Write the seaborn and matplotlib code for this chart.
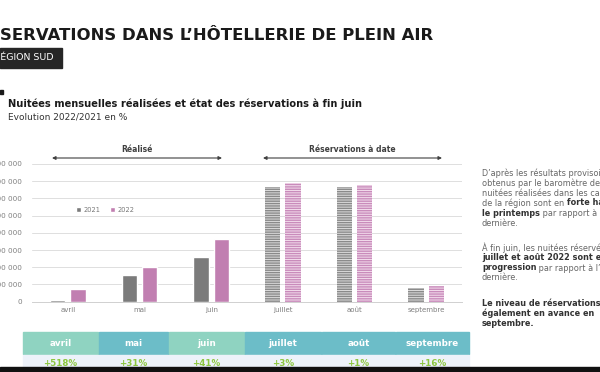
import matplotlib
matplotlib.use("Agg")
import matplotlib.pyplot as plt
import matplotlib.patches as mpatches
from matplotlib.ticker import FuncFormatter
import seaborn as sns
import pandas as pd

months = ['avril', 'mai', 'juin', 'juillet', 'août', 'septembre']
nuitees_2021 = [60000, 775000, 1300000, 3330000, 3330000, 390000]
nuitees_2022 = [370000, 1015000, 1830000, 3440000, 3385000, 455000]
evolution = ['+518%', '+31%', '+41%', '+3%', '+1%', '+16%']
forecast = ['juillet', 'août', 'septembre']

df = pd.DataFrame({'mois': months * 2,
                   'annee': ['2021'] * 6 + ['2022'] * 6,
                   'nuitees': nuitees_2021 + nuitees_2022})

W, H = 600, 372
def fx(x): return x / W
def fy(y): return 1 - y / H

sns.set_style("white")
plt.rcParams['font.family'] = ['DejaVu Sans']
plt.rcParams['hatch.linewidth'] = 1.0

fig = plt.figure(figsize=(6, 3.72), dpi=100)
renderer = fig.canvas.get_renderer()

def fit_size(text, width_px, weight='normal'):
    t = fig.text(0, 0, text, fontsize=10, weight=weight)
    w = t.get_window_extent(renderer=renderer).width
    t.remove()
    return 10 * width_px / w

ax = fig.add_axes([fx(32), fy(301.7), fx(462) - fx(32), (301.7 - 164) / H])

palette = {'2021': '#7b7b7b', '2022': '#c17fb1'}
sns.barplot(data=df, x='mois', y='nuitees', hue='annee', palette=palette,
            width=0.57, gap=0.25, saturation=1, ax=ax)

# reservations (not yet realised) drawn striped
light = ['#dcdcdc', '#f3dcec']
stripe = ['#8a8a8a', '#c98bbb']
for i, cont in enumerate(ax.containers):
    for j, bar in enumerate(cont):
        if months[j] in forecast:
            bar.set_facecolor(light[i])
            bar.set_edgecolor(stripe[i])
            bar.set_hatch('-------')
            bar.set_linewidth(0)

ax.set_ylim(0, 4000000)
ax.set_yticks(range(0, 4000001, 500000))
ax.yaxis.set_major_formatter(FuncFormatter(lambda v, p: f"{v:,.0f}".replace(',', ' ')))
ax.yaxis.grid(True, color='#dedede', lw=0.7)
ax.set_axisbelow(True)
for s in ['top', 'right', 'left']:
    ax.spines[s].set_visible(False)
ax.spines['bottom'].set_color('#d0d0d0')
ax.spines['bottom'].set_linewidth(0.7)
ax.tick_params(axis='both', length=0, labelcolor='#7f7f7f')
ax.tick_params(axis='y', pad=7, labelsize=5.2)
ax.tick_params(axis='x', pad=4, labelsize=5)
ax.set_xlabel('')
ax.set_ylabel('')
ax.set_xlim(-0.5, 5.5)

leg = ax.legend(loc='center', bbox_to_anchor=(0.17, 0.666), ncol=2, frameon=False,
                fontsize=4.8, handlelength=0.8, handleheight=0.8, handletextpad=0.3,
                columnspacing=1.4, labelcolor='#777777')

# arrows above the bars
for x0, x1, label in [(52, 222, 'Réalisé'), (263, 442, 'Réservations à date')]:
    ax.annotate('', xy=(fx(x1), fy(158)), xytext=(fx(x0), fy(158)), xycoords='figure fraction',
                arrowprops=dict(arrowstyle='<|-|>', color='#404040', lw=0.8, mutation_scale=5,
                                shrinkA=0, shrinkB=0))
    fig.text(fx((x0 + x1) / 2), fy(150), label, ha='center', va='center',
             fontsize=5.5, weight='bold', color='#404040')

# header
title = 'RÉSERVATIONS DANS L’HÔTELLERIE DE PLEIN AIR'
fs = fit_size(title[2:], 433, 'bold')
fig.text(fx(433), fy(35.5), title, ha='right', va='center', fontsize=fs, weight='bold',
         color='#1a1a1a')
fig.patches.append(mpatches.Rectangle((0, fy(67.5)), fx(62), (67.5 - 48.3) / H,
                                      transform=fig.transFigure, color='#262626'))
fs = fit_size('ÉGION SUD', 53)
fig.text(fx(53), fy(58), 'RÉGION SUD', ha='right', va='center', fontsize=fs, color='white')
fig.patches.append(mpatches.Rectangle((0, fy(94)), fx(2.5), 4 / H,
                                      transform=fig.transFigure, color='#1a1a1a'))
sub = 'Nuitées mensuelles réalisées et état des réservations à fin juin'
fig.text(fx(8), fy(104), sub, ha='left', va='center',
         fontsize=fit_size(sub, 352, 'bold'), weight='bold', color='#1a1a1a')
evo = 'Evolution 2022/2021 en %'
fig.text(fx(8), fy(117), evo, ha='left', va='center',
         fontsize=fit_size(evo, 118), color='#333333')

# table of evolutions
edges = [22.7, 99, 169, 245, 322, 396, 470]
head_colors = ['#8fd3c1', '#6cbdc8', '#8fd3c1', '#6cbdc8', '#6cbdc8', '#6cbdc8']
for k, m in enumerate(months):
    x0, x1 = edges[k], edges[k + 1] - 1
    fig.patches.append(mpatches.Rectangle((fx(x0), fy(354)), fx(x1) - fx(x0), 22 / H,
                                          transform=fig.transFigure, color=head_colors[k]))
    fig.patches.append(mpatches.Rectangle((fx(x0), fy(372)), fx(x1) - fx(x0), 17 / H,
                                          transform=fig.transFigure, color='#edf2fa'))
    fig.text(fx((x0 + x1) / 2), fy(343), m, ha='center', va='center', fontsize=6.3,
             weight='bold', color='white')
    fig.text(fx((x0 + x1) / 2), fy(363), evolution[k], ha='center', va='center', fontsize=6.3,
             weight='bold', color='#8cc63f')
fig.patches.append(mpatches.Rectangle((0, 0), 1, 5 / H, transform=fig.transFigure,
                                      color='#111111', zorder=10))

# commentary on the right
def rich_line(x, y, parts):
    x = fx(x)
    for txt, bold in parts:
        t = fig.text(x, fy(y), txt, ha='left', va='center', fontsize=5.9,
                     weight='bold' if bold else 'normal',
                     color='#333333' if bold else '#666666')
        bb = t.get_window_extent(renderer=renderer)
        x = bb.x1 / fig.bbox.width

lines = [
    (173, [("D’après les résultats provisoires", False)]),
    (183, [("obtenus par le baromètre de la", False)]),
    (193, [("nuitées réalisées dans les campings", False)]),
    (203, [("de la région sont en ", False), ("forte hausse", True)]),
    (213.5, [("le printemps", True), (" par rapport à l’année", False)]),
    (223.5, [("dernière.", False)]),
    (248, [("À fin juin, les nuitées réservées pour", False)]),
    (258, [("juillet et août 2022 sont en", True)]),
    (268, [("progression", True), (" par rapport à l’année", False)]),
    (278, [("dernière.", False)]),
    (303, [("Le niveau de réservations est", True)]),
    (313.5, [("également en avance en", True)]),
    (323.5, [("septembre.", True)]),
]
for y, parts in lines:
    rich_line(482, y, parts)

fig.savefig('out.png', dpi=100)
